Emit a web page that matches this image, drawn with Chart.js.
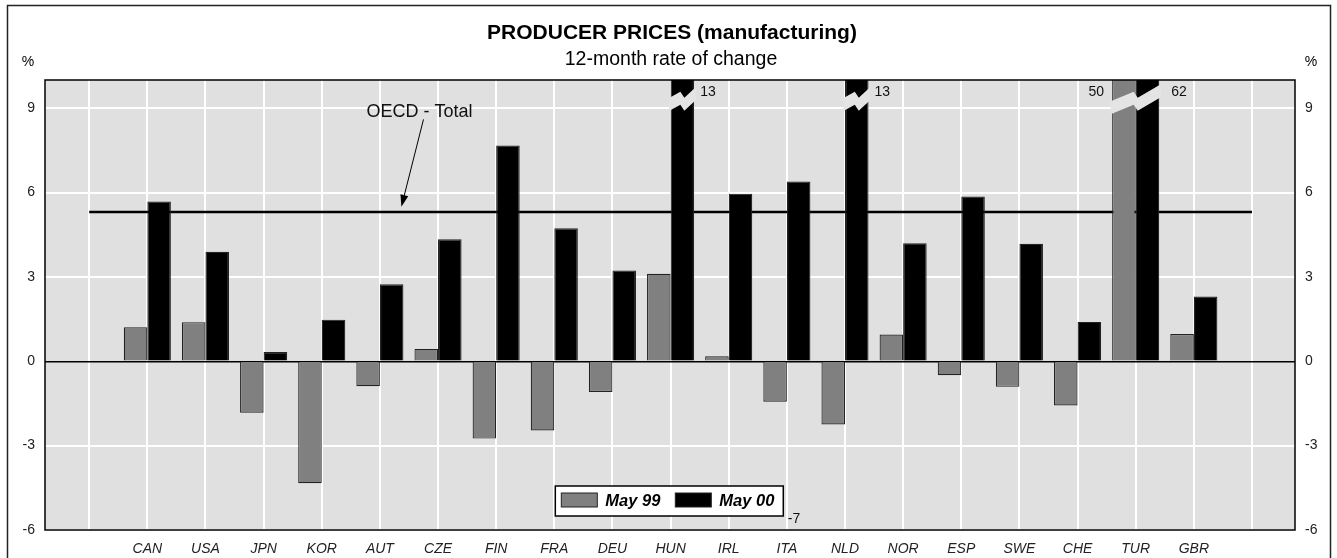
<!DOCTYPE html>
<html>
<head>
<meta charset="utf-8">
<script src="https://cdn.jsdelivr.net/npm/chart.js@4.4.0/dist/chart.umd.min.js"></script>
<style>
  html, body { margin: 0; padding: 0; background: #fff; }
  #wrap { width: 1337px; height: 558px; position: relative; }
</style>
</head>
<body>
<div id="wrap"><canvas id="chart"></canvas></div>
<script>
// Data
const countries = ['CAN', 'USA', 'JPN', 'KOR', 'AUT', 'CZE', 'FIN', 'FRA', 'DEU', 'HUN',
                   'IRL', 'ITA', 'NLD', 'NOR', 'ESP', 'SWE', 'CHE', 'TUR', 'GBR'];
const may99 = [1.21, 1.39, -1.83, -4.34, -0.89, 0.44, -2.75, -2.46, -1.09, 3.11,
               0.18, -1.44, -2.25, 0.95, -0.5, -0.91, -1.57, 50, 0.97];
const may00 = [5.68, 3.89, 0.33, 1.48, 2.74, 4.34, 7.67, 4.73, 3.23, 13,
               5.96, 6.39, 13, 4.2, 5.86, 4.18, 1.4, 62, 2.3];
const oecdTotal = 5.31;
const yTicks = [-6, -3, 0, 3, 6, 9];
const yMin = -6;
const yMax = 10;
const offChartNote = '-7';

const FONT = "'Liberation Sans', Arial, Helvetica, sans-serif";
const PLOT_BG = '#e0e0e0';
const GRAY = '#808080';

const seriesValues = [may99, may00];

/**
 * Background, break marks, annotations, legend box, titles
 */
const decor = {
    id: 'decor',
    beforeDraw(chart) {
        const { ctx, chartArea: a } = chart;
        ctx.save();
        ctx.fillStyle = PLOT_BG;
        ctx.fillRect(a.left, a.top, a.right - a.left, a.bottom - a.top);
        ctx.restore();
    },
    afterDatasetsDraw(chart) {
        const { ctx, chartArea: a, scales: { x, y } } = chart;
        ctx.save();

        // broken bars (values above the axis maximum)
        countries.forEach((c, i) => {
            const over = [0, 1].filter(d => seriesValues[d][i] > yMax);
            if (!over.length) return;
            const bars = over.map(d => chart.getDatasetMeta(d).data[i]);
            const x0 = Math.min(...bars.map(b => b.x - b.width / 2)) - 1.5;
            const x1 = Math.max(...bars.map(b => b.x + b.width / 2)) + 1.5;
            const xm = (x0 + x1) / 2;
            const h = (x1 - x0) * 0.13 + 2;
            const yc = y.getPixelForValue(9.55);
            const t = 13;
            const upper = [[x0, yc + h], [xm - 2, yc - 1], [xm + 2, yc + 5], [x1, yc - h]];
            const lower = upper.map(p => [p[0], p[1] + t]).reverse();
            ctx.beginPath();
            [...upper, ...lower].forEach((p, k) => k ? ctx.lineTo(p[0], p[1]) : ctx.moveTo(p[0], p[1]));
            ctx.closePath();
            ctx.fillStyle = '#e4e4e4';
            ctx.fill();

            ctx.fillStyle = '#111';
            ctx.font = '14px ' + FONT;
            ctx.textBaseline = 'middle';
            over.forEach(d => {
                const b = chart.getDatasetMeta(d).data[i];
                const txt = String(seriesValues[d][i]);
                if (d === 0) {
                    ctx.textAlign = 'right';
                    ctx.fillText(txt, b.x - b.width / 2 - 8, a.top + 12);
                } else {
                    ctx.textAlign = 'left';
                    ctx.fillText(txt, b.x + b.width / 2 + (over.length > 1 ? 12 : 6), a.top + 12);
                }
            });
        });

        // note under ITA
        ctx.fillStyle = '#111';
        ctx.font = '14px ' + FONT;
        ctx.textAlign = 'left';
        ctx.textBaseline = 'middle';
        ctx.fillText(offChartNote, x.getPixelForValue(12) + 1, y.getPixelForValue(-5.6));

        // OECD label and arrow
        ctx.font = '18px ' + FONT;
        ctx.textAlign = 'center';
        ctx.fillText('OECD - Total', x.getPixelForValue(5.68), y.getPixelForValue(8.85));
        const ax0 = x.getPixelForValue(5.75), ay0 = y.getPixelForValue(8.6);
        const ax1 = x.getPixelForValue(5.37), ay1 = y.getPixelForValue(5.49);
        const ang = Math.atan2(ay1 - ay0, ax1 - ax0);
        ctx.strokeStyle = '#000';
        ctx.lineWidth = 1;
        ctx.beginPath();
        ctx.moveTo(ax0, ay0);
        ctx.lineTo(ax1 - 8 * Math.cos(ang), ay1 - 8 * Math.sin(ang));
        ctx.stroke();
        ctx.beginPath();
        ctx.moveTo(ax1, ay1);
        ctx.lineTo(ax1 - 12 * Math.cos(ang) + 4 * Math.sin(ang), ay1 - 12 * Math.sin(ang) - 4 * Math.cos(ang));
        ctx.lineTo(ax1 - 12 * Math.cos(ang) - 4 * Math.sin(ang), ay1 - 12 * Math.sin(ang) + 4 * Math.cos(ang));
        ctx.closePath();
        ctx.fillStyle = '#000';
        ctx.fill();

        // plot frame
        ctx.strokeStyle = '#000';
        ctx.lineWidth = 1.5;
        ctx.strokeRect(a.left, a.top, a.right - a.left, a.bottom - a.top);

        // legend box
        const bx = x.getPixelForValue(8.0) + 1, by = a.bottom - 44;
        const bw = 228, bh = 30;
        ctx.fillStyle = '#fff';
        ctx.fillRect(bx, by, bw, bh);
        ctx.lineWidth = 1.5;
        ctx.strokeRect(bx, by, bw, bh);
        const items = chart.data.datasets.slice(0, 2);
        const swX = [bx + 6, bx + 120];
        items.forEach((ds, k) => {
            ctx.fillStyle = ds.backgroundColor;
            ctx.fillRect(swX[k], by + 7, 36, 14);
            ctx.strokeStyle = '#222';
            ctx.lineWidth = 1;
            ctx.strokeRect(swX[k], by + 7, 36, 14);
            ctx.fillStyle = '#000';
            ctx.font = 'italic bold 16.5px ' + FONT;
            ctx.textAlign = 'left';
            ctx.textBaseline = 'middle';
            ctx.fillText(ds.label, swX[k] + 44, by + 15);
        });
        ctx.restore();
    },
    afterDraw(chart) {
        const { ctx } = chart;
        ctx.save();
        // outer frame (open at the bottom)
        ctx.strokeStyle = '#222';
        ctx.lineWidth = 1.5;
        ctx.beginPath();
        ctx.moveTo(7.5, chart.height);
        ctx.lineTo(7.5, 5.5);
        ctx.lineTo(1330.5, 5.5);
        ctx.lineTo(1330.5, chart.height);
        ctx.stroke();

        ctx.fillStyle = '#000';
        ctx.textAlign = 'center';
        ctx.textBaseline = 'middle';
        ctx.font = 'bold 21px ' + FONT;
        ctx.fillText('PRODUCER PRICES (manufacturing)', 672, 33);
        ctx.font = '19.5px ' + FONT;
        ctx.fillText('12-month rate of change', 671, 60);
        ctx.font = '14px ' + FONT;
        ctx.fillText('%', 28, 62);
        ctx.fillText('%', 1311, 62);
        ctx.restore();
    }
};

const ctx = document.getElementById('chart');
new Chart(ctx, {
    type: 'bar',
    data: {
        datasets: [
            {
                label: 'May 99',
                data: may99.map((v, i) => ({ x: i + 1, y: v })),
                backgroundColor: GRAY,
                borderColor: '#222',
                borderWidth: 1.2,
                categoryPercentage: 0.81,
                barPercentage: 1.0,
                clip: 0,
                order: 1
            },
            {
                label: 'May 00',
                data: may00.map((v, i) => ({ x: i + 1, y: v })),
                backgroundColor: '#000',
                borderColor: '#222',
                borderWidth: 1.2,
                categoryPercentage: 0.81,
                barPercentage: 1.0,
                clip: 0,
                order: 1
            },
            {
                type: 'line',
                label: 'OECD - Total',
                data: [{ x: 0, y: oecdTotal }, { x: 20, y: oecdTotal }],
                borderColor: '#000',
                borderWidth: 2.5,
                pointRadius: 0,
                fill: false,
                order: 3
            }
        ]
    },
    options: {
        responsive: true,
        maintainAspectRatio: false,
        animation: false,
        events: [],
        layout: { padding: { top: 80, left: 0, right: 0, bottom: 0 } },
        plugins: {
            legend: { display: false },
            tooltip: { enabled: false },
            title: { display: false }
        },
        scales: {
            x: {
                type: 'linear',
                min: -0.76,
                max: 20.74,
                offset: false,
                afterBuildTicks: s => { s.ticks = [0, ...countries.map((c, i) => i + 1), countries.length + 1].map(v => ({ value: v })); },
                afterFit: s => { s.height = 28; },
                grid: { color: '#fff', lineWidth: 2, drawTicks: false, offset: false },
                border: { display: false },
                ticks: {
                    autoSkip: false,
                    maxRotation: 0,
                    padding: 11,
                    color: '#222',
                    font: { family: FONT, size: 14, style: 'italic' },
                    callback: v => countries[v - 1] || ''
                }
            },
            y: {
                type: 'linear',
                position: 'left',
                min: yMin,
                max: yMax,
                afterBuildTicks: s => { s.ticks = yTicks.map(v => ({ value: v })); },
                afterFit: s => { s.width = 45; },
                grid: {
                    drawTicks: false,
                    color: c => c.tick && c.tick.value === 0 ? '#000' : '#fff',
                    lineWidth: c => c.tick && c.tick.value === 0 ? 1.5 : 2
                },
                border: { display: false },
                ticks: { padding: 10, color: '#222', font: { family: FONT, size: 14 } }
            },
            y2: {
                type: 'linear',
                position: 'right',
                min: yMin,
                max: yMax,
                afterBuildTicks: s => { s.ticks = yTicks.map(v => ({ value: v })); },
                afterFit: s => { s.width = 42; },
                grid: { display: false, drawTicks: false },
                border: { display: false },
                ticks: { padding: 10, color: '#222', font: { family: FONT, size: 14 } }
            }
        }
    },
    plugins: [decor]
});
</script>
</body>
</html>
